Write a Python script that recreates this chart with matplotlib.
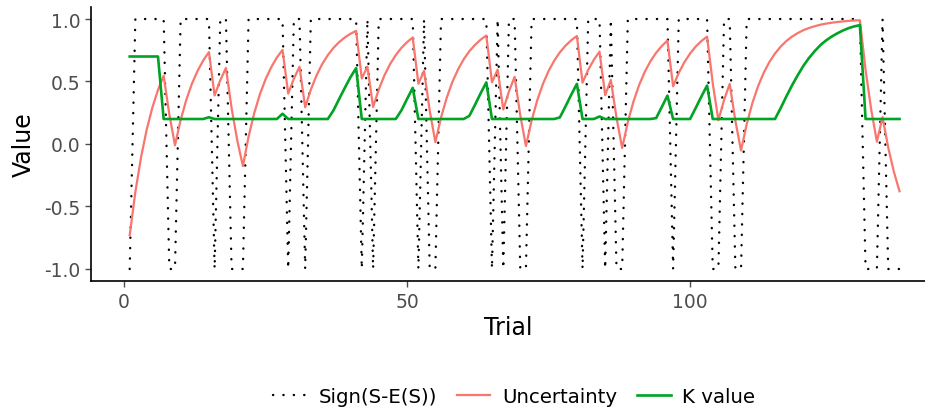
import matplotlib
matplotlib.use("Agg")
import matplotlib.pyplot as plt
from matplotlib.lines import Line2D

plt.rcParams['font.family'] = ['DejaVu Sans']
plt.rcParams['axes.unicode_minus'] = False

# trial numbers 1..137
trial = list(range(1, 138))

# Sign(S-E(S)) per trial
sign = [-1, 1, 1, 1, 1, 1, 1, -1, -1, 1,
        1, 1, 1, 1, 1, -1, 1, 1, -1, -1,
        -1, 1, 1, 1, 1, 1, 1, 1, -1, 1,
        1, -1, 1, 1, 1, 1, 1, 1, 1, 1,
        1, -1, 1, -1, 1, 1, 1, 1, 1, 1,
        1, -1, 1, -1, -1, 1, 1, 1, 1, 1,
        1, 1, 1, 1, -1, 1, -1, 1, 1, -1,
        -1, 1, 1, 1, 1, 1, 1, 1, 1, 1,
        -1, 1, 1, 1, -1, 1, -1, -1, 1, 1,
        1, 1, 1, 1, 1, 1, -1, 1, 1, 1,
        1, 1, 1, -1, -1, 1, 1, -1, -1, 1,
        1, 1, 1, 1, 1, 1, 1, 1, 1, 1,
        1, 1, 1, 1, 1, 1, 1, 1, 1, 1,
        -1, -1, -1, 1, -1, -1, -1]

uncertainty = [-0.73, -0.384, -0.107, 0.114, 0.291, 0.433, 0.546, 0.237, -0.010, 0.192,
               0.353, 0.483, 0.586, 0.669, 0.735, 0.388, 0.510, 0.608, 0.287, 0.029,
               -0.176, 0.059, 0.247, 0.398, 0.518, 0.614, 0.692, 0.753, 0.403, 0.522,
               0.618, 0.294, 0.435, 0.548, 0.639, 0.711, 0.769, 0.815, 0.852, 0.882,
               0.905, 0.524, 0.619, 0.296, 0.436, 0.549, 0.639, 0.711, 0.769, 0.815,
               0.852, 0.482, 0.585, 0.268, 0.015, 0.212, 0.369, 0.496, 0.596, 0.677,
               0.742, 0.793, 0.835, 0.868, 0.494, 0.595, 0.276, 0.421, 0.537, 0.230,
               -0.016, 0.187, 0.350, 0.480, 0.584, 0.667, 0.734, 0.787, 0.830, 0.864,
               0.491, 0.593, 0.674, 0.739, 0.391, 0.513, 0.211, -0.032, 0.175, 0.340,
               0.472, 0.578, 0.662, 0.730, 0.784, 0.827, 0.462, 0.569, 0.655, 0.724,
               0.780, 0.824, 0.859, 0.487, 0.190, 0.352, 0.481, 0.185, -0.052, 0.158,
               0.327, 0.461, 0.569, 0.655, 0.724, 0.779, 0.824, 0.859, 0.887, 0.910,
               0.928, 0.942, 0.954, 0.963, 0.970, 0.976, 0.981, 0.985, 0.988, 0.990,
               0.592, 0.274, 0.019, 0.215, -0.028, -0.222, -0.378]

k_value = [0.7, 0.7, 0.7, 0.7, 0.7, 0.7, 0.2, 0.2, 0.2, 0.2,
           0.2, 0.2, 0.2, 0.2, 0.214, 0.2, 0.2, 0.2, 0.2, 0.2,
           0.2, 0.2, 0.2, 0.2, 0.2, 0.2, 0.2, 0.242, 0.2, 0.2,
           0.2, 0.2, 0.2, 0.2, 0.2, 0.2, 0.269, 0.360, 0.449, 0.534,
           0.607, 0.2, 0.2, 0.2, 0.2, 0.2, 0.2, 0.2, 0.269, 0.360,
           0.449, 0.2, 0.2, 0.2, 0.2, 0.2, 0.2, 0.2, 0.2, 0.2,
           0.225, 0.313, 0.406, 0.493, 0.2, 0.2, 0.2, 0.2, 0.2, 0.2,
           0.2, 0.2, 0.2, 0.2, 0.2, 0.2, 0.213, 0.302, 0.394, 0.481,
           0.2, 0.2, 0.2, 0.220, 0.2, 0.2, 0.2, 0.2, 0.2, 0.2,
           0.2, 0.2, 0.2, 0.207, 0.296, 0.387, 0.2, 0.2, 0.2, 0.2,
           0.289, 0.380, 0.468, 0.2, 0.2, 0.2, 0.2, 0.2, 0.2, 0.2,
           0.2, 0.2, 0.2, 0.2, 0.2, 0.287, 0.380, 0.468, 0.549, 0.624,
           0.688, 0.742, 0.790, 0.828, 0.859, 0.885, 0.908, 0.927, 0.941, 0.951,
           0.2, 0.2, 0.2, 0.2, 0.2, 0.2, 0.2]

salmon = '#F8766D'
green = '#00A323'
grey = '#4D4D4D'
dots = (0, (0.1, 4.3))

fig = plt.figure(figsize=(9.25, 4.1), dpi=100)
ax = fig.add_axes([0.0986, 0.311, 0.9014, 0.6707])

ax.plot(trial, sign, color='black', lw=1.7, linestyle=dots,
        dash_capstyle='round')
ax.plot(trial, uncertainty, color=salmon, lw=1.6)
ax.plot(trial, k_value, color=green, lw=1.9)

ax.set_xlim(-5.8, 141.5)
ax.set_ylim(-1.1, 1.1)
ax.set_xticks([0, 50, 100])
ax.set_yticks([-1.0, -0.5, 0.0, 0.5, 1.0])
ax.set_yticklabels(['-1.0', '-0.5', '0.0', '0.5', '1.0'])

for s in ['top', 'right']:
    ax.spines[s].set_visible(False)
for s in ['left', 'bottom']:
    ax.spines[s].set_linewidth(1.2)
    ax.spines[s].set_color('black')

ax.tick_params(axis='both', colors=grey, labelsize=13.5, length=4, width=1)
ax.tick_params(axis='both', labelcolor=grey)
ax.set_xlabel('Trial', fontsize=17, labelpad=3)
ax.set_ylabel('Value', fontsize=17, labelpad=6)

handles = [
    Line2D([], [], color='black', lw=1.7, linestyle=dots, dash_capstyle='round'),
    Line2D([], [], color=salmon, lw=1.6),
    Line2D([], [], color=green, lw=1.9),
]
fig.legend(handles, ['Sign(S-E(S))', 'Uncertainty', 'K value'],
           loc='center', bbox_to_anchor=(0.556, 0.031), ncol=3, frameon=False,
           fontsize=14.2, handlelength=1.7, columnspacing=1.0, handletextpad=0.6)

fig.savefig('out.png', dpi=100)
